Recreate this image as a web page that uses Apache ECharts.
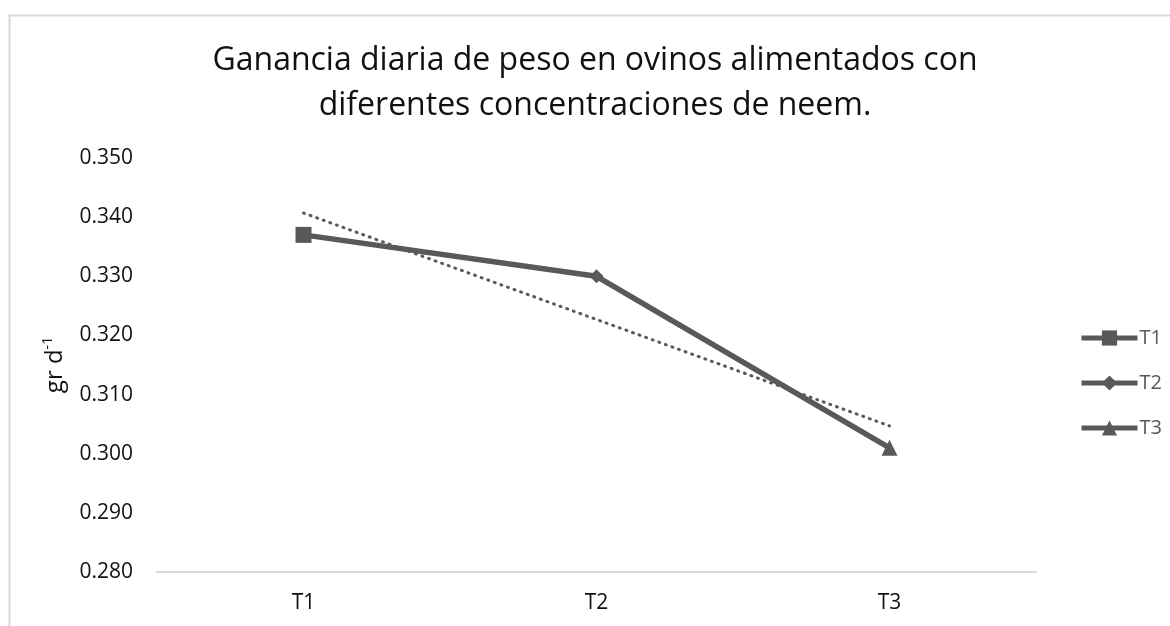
<!DOCTYPE html>
<html>
<head>
<meta charset="utf-8">
<script src="https://cdn.jsdelivr.net/npm/echarts@6/dist/echarts.min.js"></script>
<style>
html,body{margin:0;padding:0;background:#fff;}
#c{width:1170px;height:626px;}
</style>
</head>
<body>
<div id="c"></div>
<script>
var categories = ['T1', 'T2', 'T3'];
var gainValues = [0.337, 0.330, 0.301];
var trendValues = [0.3407, null, 0.3047];
var pointSymbols = ['rect', 'diamond', 'triangle'];
var legendNames = ['T1', 'T2', 'T3'];
var yTicks = { min: 0.28, max: 0.35, interval: 0.01 };

var FONT = 'Open Sans';
var LINE = '#595959';

var chart = echarts.init(document.getElementById('c'));

var mainData = gainValues.map(function (v, i) {
  return { value: v, symbol: pointSymbols[i], symbolSize: pointSymbols[i] === 'diamond' ? 14 : 16 };
});

var legendSeries = legendNames.map(function (n, i) {
  return {
    name: n, type: 'line', data: [],
    symbol: pointSymbols[i], symbolSize: 15,
    lineStyle: { color: LINE, width: 5 },
    itemStyle: { color: LINE }
  };
});

chart.setOption({
  animation: false,
  backgroundColor: '#fff',
  graphic: [{
    type: 'rect', left: 7, top: 13, silent: true,
    shape: { width: 1200, height: 700 },
    style: { fill: 'none', stroke: '#d9d9d9', lineWidth: 2 }
  }],
  title: {
    text: 'Ganancia diaria de peso en ovinos alimentados con\ndiferentes concentraciones de neem.',
    left: 590, top: 33, textAlign: 'center',
    textStyle: { fontFamily: FONT, fontSize: 32, fontWeight: 'normal', color: '#111', lineHeight: 45 }
  },
  legend: {
    orient: 'vertical', left: 1074, top: 323,
    itemWidth: 56, itemHeight: 19, itemGap: 25,
    lineStyle: { width: 5, color: LINE },
    textStyle: { fontFamily: FONT, fontSize: 20, lineHeight: 20, color: '#595959', padding: [0, 0, 0, -3] },
    data: legendNames
  },
  grid: { left: 157, right: 134, top: 158, bottom: 54, containLabel: false },
  xAxis: {
    type: 'category', data: categories, boundaryGap: true,
    axisLine: { lineStyle: { color: '#d9d9d9', width: 2 } },
    axisTick: { show: false },
    axisLabel: { fontFamily: FONT, fontSize: 21, color: '#111', margin: 21 }
  },
  yAxis: {
    type: 'value', min: yTicks.min, max: yTicks.max, interval: yTicks.interval,
    name: '{a|gr d}{b|-1}', nameLocation: 'middle', nameGap: 88, nameRotate: 90,
    nameTextStyle: {
      rich: {
        a: { fontFamily: FONT, fontSize: 24, color: '#111', lineHeight: 28 },
        b: { fontFamily: FONT, fontSize: 14, color: '#111', verticalAlign: 'top', lineHeight: 28 }
      }
    },
    axisLine: { show: false }, axisTick: { show: false },
    splitLine: { show: false },
    axisLabel: {
      fontFamily: FONT, fontSize: 21, color: '#111', margin: 24,
      formatter: function (v) { return v.toFixed(3); }
    }
  },
  series: [
    {
      type: 'line', data: trendValues, connectNulls: true, symbol: 'none',
      lineStyle: { color: LINE, width: 3, type: [1, 6], cap: 'round' }, z: 1
    },
    {
      type: 'line', data: mainData,
      lineStyle: { color: LINE, width: 5.5 }, itemStyle: { color: LINE }, z: 2
    }
  ].concat(legendSeries)
});
</script>
</body>
</html>
